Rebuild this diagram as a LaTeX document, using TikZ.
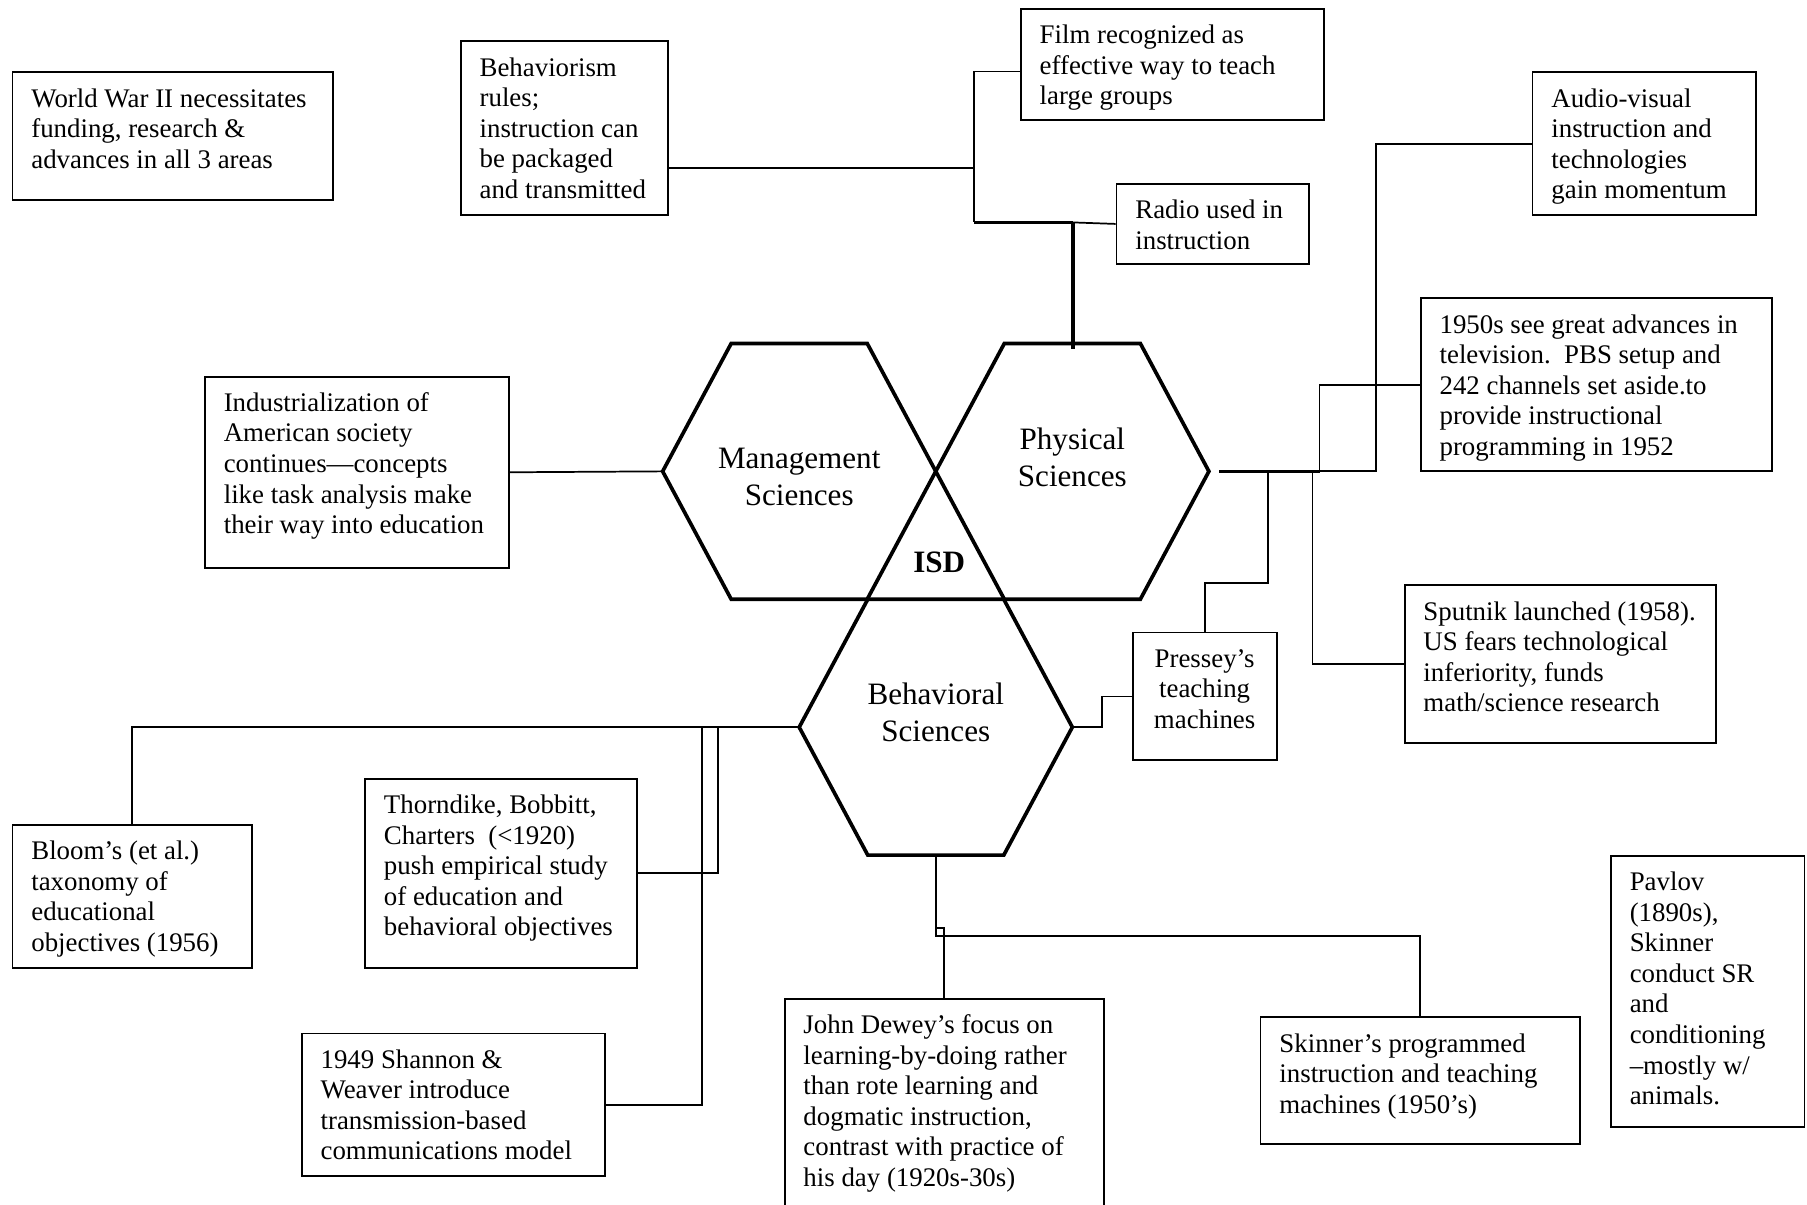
\documentclass[tikz,border=0pt]{standalone}
\usepackage{fontspec}
\setmainfont{Liberation Serif}
% #1 options for text, #2 name, #3 x, #4 y (top-left), #5 width, #6 height, #7 text
\newcommand{\infobox}[7][]{%
  \node[boxst, anchor=north west, minimum width=#5pt, minimum height=#6pt] (#2) at (#3,#4) {};
  \node[txtst, anchor=base west] (#2-t) at ([shift={(17pt,-31pt)}]#2.north west)
    {\parbox[t]{#5pt}{\raggedright #7}};
}
\begin{document}
\begin{tikzpicture}[x=1pt,y=-1pt,
  boxst/.style={draw, line width=1.6pt, inner sep=0pt},
  txtst/.style={inner sep=0pt, font=\fontsize{23.3}{26.5}\selectfont},
  hexst/.style={draw, line width=3.2pt, line join=miter},
  hexlab/.style={align=center, font=\fontsize{27}{32}\selectfont, inner sep=0pt},
  conn/.style={line width=1.5pt},
  thickconn/.style={line width=3pt}]
\useasboundingbox (0,0) rectangle (1568,1045);
\clip (0,0) rectangle (1568,1045);

% ---------- hexagons ----------
\coordinate (M) at (693.5,409);
\coordinate (P) at (930.5,409);
\coordinate (B) at (812,631);
\foreach \c in {M,P,B}{
  \draw[hexst] (\c) +(-118.5,0) -- +(-59,-111) -- +(59,-111) -- +(118.5,0) -- +(59,111) -- +(-59,111) -- cycle;
}
\node[hexlab] (Mlab) at (693.5,414) {Management\\Sciences};
\node[hexlab] (Plab) at (930.5,397) {Physical\\Sciences};
\node[hexlab] (Blab) at (812,618) {Behavioral\\Sciences};
\node[hexlab, font=\fontsize{27}{32}\selectfont\bfseries] (isd) at (815,488) {ISD};

% ---------- boxes ----------
\infobox{ww}{10}{62}{278}{111}{World War II necessitates\\funding, research \&\\advances in all 3 areas}
\infobox{beh}{399}{35}{180}{151}{Behaviorism\\rules;\\instruction can\\be packaged\\and transmitted}
\infobox{film}{885}{7}{263}{96}{Film recognized as\\effective way to teach\\large groups}
\infobox{radio}{968}{159}{167}{69}{Radio used in\\instruction}
\infobox{audio}{1329}{62}{194}{124}{Audio-visual\\instruction and\\technologies\\gain momentum}
\infobox{tv}{1232}{258}{305}{150}{1950s see great advances in\\television.\ \ PBS setup and\\242 channels set aside.to\\provide instructional\\programming in 1952}
\infobox{ind}{177}{326}{264}{166}{Industrialization of\\American society\\continues—concepts\\like task analysis make\\their way into education}
\infobox{sput}{1218}{507}{270}{137}{Sputnik launched (1958).\\US fears technological\\inferiority, funds\\math/science research}
\infobox{bloom}{10}{715}{208}{124}{Bloom’s (et al.)\\taxonomy of\\educational\\objectives (1956)}
\infobox{thorn}{316}{675}{236}{164}{Thorndike, Bobbitt,\\Charters\ \ (<1920)\\push empirical study\\of education and\\behavioral objectives}
\infobox{shan}{261}{896}{263}{124}{1949 Shannon \&\\Weaver introduce\\transmission-based\\communications model}
\infobox{dewey}{680}{866}{277}{200}{John Dewey’s focus on\\learning-by-doing rather\\than rote learning and\\dogmatic instruction,\\contrast with practice of\\his day (1920s-30s)}
\infobox{skin}{1093}{882}{277}{110}{Skinner’s programmed\\instruction and teaching\\machines (1950’s)}
\infobox{pav}{1397}{742}{168}{235}{Pavlov\\(1890s),\\Skinner\\conduct SR\\and\\conditioning\\–mostly w/\\animals.}
% Pressey (centred text)
\node[boxst, anchor=north west, minimum width=125pt, minimum height=111pt] (press) at (982,548) {};
\node[txtst, anchor=base] (press-t) at ([yshift=-31pt]press.north)
  {\parbox[t]{125pt}{\centering Pressey’s\\teaching\\machines}};

% ---------- connectors: top ----------
\coordinate (Mw) at (575,409);
\draw[conn] (ind.east) -- (Mw);
\coordinate (j1) at (845,146);
\coordinate (jf) at (845,62);
\coordinate (jr) at (845,193);
\coordinate (jp) at (931,193);
\coordinate (Ptop) at (931,303);
\draw[conn] (beh.east |- j1) -- (j1);
\draw[conn] (jf) -- (jr);
\draw[conn] (jf) -- (film.west |- jf);
\draw[thickconn] (jr) -- (jp);
\draw[conn] (jp) -- (radio.west);
\draw[thickconn] (jp) -- (Ptop);

% ---------- connectors: right ----------
\coordinate (Pe) at (1058,409);
\coordinate (ra) at (1145,409);
\coordinate (rb) at (1194,409);
\coordinate (rs) at (1139,409);
\coordinate (rp) at (1100,409);
\coordinate (rp2) at (1100,506);
\draw[thickconn] (Pe) -- (ra);
\draw[conn] (ra) -- (rb) -- (rb |- audio.west) -- (audio.west);
\draw[conn] (ra) -- (ra |- tv.west) -- (tv.west);
\draw[conn] (rs) -- (rs |- sput.west) -- (sput.west);
\draw[conn] (rp) -- (rp2) -- (rp2 -| press.north) -- (press.north);
\coordinate (Be) at (930.5,631);
\coordinate (bp) at (956,631);
\draw[conn] (Be) -- (bp) -- (bp |- press.west) -- (press.west);

% ---------- connectors: left / bottom ----------
\coordinate (Bw) at (693.5,631);
\coordinate (l1) at (623,631);
\coordinate (l2) at (609,631);
\draw[conn] (Bw) -- (Bw -| bloom.north) -- (bloom.north);
\draw[conn] (l1) -- (l1 |- thorn.east) -- (thorn.east);
\draw[conn] (l2) -- (l2 |- shan.east) -- (shan.east);
\coordinate (Bs) at (812,742);
\coordinate (bd) at (812,812);
\coordinate (dd) at (812,805);
\draw[conn] (Bs) -- (bd) -- (bd -| skin.north) -- (skin.north);
\draw[conn] (dd) -- (dd -| dewey.north) -- (dewey.north);
\end{tikzpicture}
\end{document}
